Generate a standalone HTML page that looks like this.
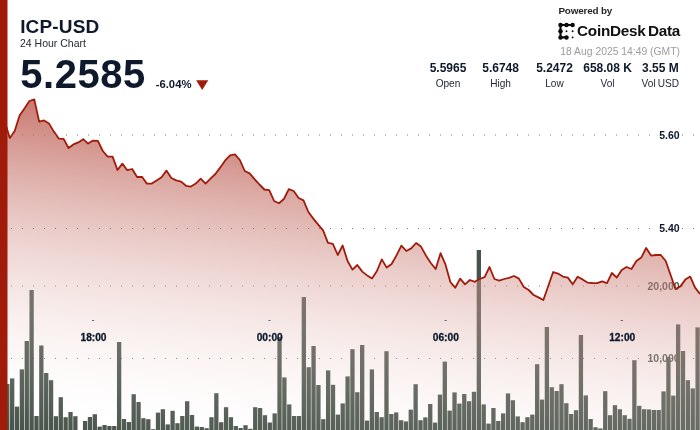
<!DOCTYPE html>
<html><head><meta charset="utf-8"><title>ICP-USD 24 Hour Chart</title>
<style>
html,body{margin:0;padding:0;background:#fff;}
body{width:700px;height:430px;overflow:hidden;position:relative;font-family:"Liberation Sans",Arial,sans-serif;color:#0e1a2c;}
svg{position:absolute;left:0;top:0;}
.t{position:absolute;white-space:nowrap;line-height:1;}
.sym{left:20.2px;top:16.8px;font-size:19px;font-weight:bold;letter-spacing:0.15px;}
.sub{left:20px;top:38.3px;font-size:10.5px;color:#222a35;}
.price{left:20.3px;top:54.2px;font-size:40px;font-weight:bold;letter-spacing:0.5px;}
.chg{left:155.7px;top:79px;font-size:11.3px;font-weight:bold;}
.pow{left:558.4px;top:5.7px;font-size:9.9px;font-weight:bold;color:#262626;letter-spacing:-0.17px;}
.brand{left:577px;top:22.9px;font-size:15.3px;font-weight:bold;color:#111;word-spacing:-1.6px;letter-spacing:-0.25px;}
.date{right:20.1px;top:46.6px;font-size:10.35px;color:#9c9c9c;}
.col{position:absolute;top:62px;width:80px;margin-left:-40px;text-align:center;}
.col b{display:block;font-size:12px;line-height:13px;font-weight:bold;}
.col span{display:block;font-size:10.1px;line-height:12px;margin-top:2.7px;word-spacing:-0.8px;color:#222a35;}
</style></head><body>
<svg width="700" height="430" viewBox="0 0 700 430">
<defs>
<linearGradient id="g" x1="50" y1="0" x2="0" y2="430" gradientUnits="userSpaceOnUse">
<stop offset="0" stop-color="#a11b0b" stop-opacity="1"/>
<stop offset="1" stop-color="#ffffff" stop-opacity="0"/>
</linearGradient>
</defs>
<g font-family="Liberation Sans, Arial, sans-serif" font-weight="bold" font-size="10.5" text-anchor="end" fill="#47534a">
<text x="679.6" y="289.8">20,000</text>
<text x="679.6" y="362.2">10,000</text>
</g>
<g fill="#7a7a7a"><rect x="11" y="285.5" width="1" height="1"/><rect x="22" y="285.5" width="1" height="1"/><rect x="33" y="285.5" width="1" height="1"/><rect x="44" y="285.5" width="1" height="1"/><rect x="55" y="285.5" width="1" height="1"/><rect x="66" y="285.5" width="1" height="1"/><rect x="77" y="285.5" width="1" height="1"/><rect x="88" y="285.5" width="1" height="1"/><rect x="99" y="285.5" width="1" height="1"/><rect x="110" y="285.5" width="1" height="1"/><rect x="121" y="285.5" width="1" height="1"/><rect x="132" y="285.5" width="1" height="1"/><rect x="143" y="285.5" width="1" height="1"/><rect x="154" y="285.5" width="1" height="1"/><rect x="165" y="285.5" width="1" height="1"/><rect x="176" y="285.5" width="1" height="1"/><rect x="187" y="285.5" width="1" height="1"/><rect x="198" y="285.5" width="1" height="1"/><rect x="209" y="285.5" width="1" height="1"/><rect x="220" y="285.5" width="1" height="1"/><rect x="231" y="285.5" width="1" height="1"/><rect x="242" y="285.5" width="1" height="1"/><rect x="253" y="285.5" width="1" height="1"/><rect x="264" y="285.5" width="1" height="1"/><rect x="275" y="285.5" width="1" height="1"/><rect x="286" y="285.5" width="1" height="1"/><rect x="297" y="285.5" width="1" height="1"/><rect x="308" y="285.5" width="1" height="1"/><rect x="319" y="285.5" width="1" height="1"/><rect x="330" y="285.5" width="1" height="1"/><rect x="341" y="285.5" width="1" height="1"/><rect x="352" y="285.5" width="1" height="1"/><rect x="363" y="285.5" width="1" height="1"/><rect x="374" y="285.5" width="1" height="1"/><rect x="385" y="285.5" width="1" height="1"/><rect x="396" y="285.5" width="1" height="1"/><rect x="407" y="285.5" width="1" height="1"/><rect x="418" y="285.5" width="1" height="1"/><rect x="429" y="285.5" width="1" height="1"/><rect x="440" y="285.5" width="1" height="1"/><rect x="451" y="285.5" width="1" height="1"/><rect x="462" y="285.5" width="1" height="1"/><rect x="473" y="285.5" width="1" height="1"/><rect x="484" y="285.5" width="1" height="1"/><rect x="495" y="285.5" width="1" height="1"/><rect x="506" y="285.5" width="1" height="1"/><rect x="517" y="285.5" width="1" height="1"/><rect x="528" y="285.5" width="1" height="1"/><rect x="539" y="285.5" width="1" height="1"/><rect x="550" y="285.5" width="1" height="1"/><rect x="561" y="285.5" width="1" height="1"/><rect x="572" y="285.5" width="1" height="1"/><rect x="583" y="285.5" width="1" height="1"/><rect x="594" y="285.5" width="1" height="1"/><rect x="605" y="285.5" width="1" height="1"/><rect x="616" y="285.5" width="1" height="1"/><rect x="627" y="285.5" width="1" height="1"/><rect x="638" y="285.5" width="1" height="1"/><rect x="649" y="285.5" width="1" height="1"/><rect x="660" y="285.5" width="1" height="1"/><rect x="671" y="285.5" width="1" height="1"/><rect x="682" y="285.5" width="1" height="1"/><rect x="693" y="285.5" width="1" height="1"/><rect x="11" y="358" width="1" height="1"/><rect x="22" y="358" width="1" height="1"/><rect x="33" y="358" width="1" height="1"/><rect x="44" y="358" width="1" height="1"/><rect x="55" y="358" width="1" height="1"/><rect x="66" y="358" width="1" height="1"/><rect x="77" y="358" width="1" height="1"/><rect x="88" y="358" width="1" height="1"/><rect x="99" y="358" width="1" height="1"/><rect x="110" y="358" width="1" height="1"/><rect x="121" y="358" width="1" height="1"/><rect x="132" y="358" width="1" height="1"/><rect x="143" y="358" width="1" height="1"/><rect x="154" y="358" width="1" height="1"/><rect x="165" y="358" width="1" height="1"/><rect x="176" y="358" width="1" height="1"/><rect x="187" y="358" width="1" height="1"/><rect x="198" y="358" width="1" height="1"/><rect x="209" y="358" width="1" height="1"/><rect x="220" y="358" width="1" height="1"/><rect x="231" y="358" width="1" height="1"/><rect x="242" y="358" width="1" height="1"/><rect x="253" y="358" width="1" height="1"/><rect x="264" y="358" width="1" height="1"/><rect x="275" y="358" width="1" height="1"/><rect x="286" y="358" width="1" height="1"/><rect x="297" y="358" width="1" height="1"/><rect x="308" y="358" width="1" height="1"/><rect x="319" y="358" width="1" height="1"/><rect x="330" y="358" width="1" height="1"/><rect x="341" y="358" width="1" height="1"/><rect x="352" y="358" width="1" height="1"/><rect x="363" y="358" width="1" height="1"/><rect x="374" y="358" width="1" height="1"/><rect x="385" y="358" width="1" height="1"/><rect x="396" y="358" width="1" height="1"/><rect x="407" y="358" width="1" height="1"/><rect x="418" y="358" width="1" height="1"/><rect x="429" y="358" width="1" height="1"/><rect x="440" y="358" width="1" height="1"/><rect x="451" y="358" width="1" height="1"/><rect x="462" y="358" width="1" height="1"/><rect x="473" y="358" width="1" height="1"/><rect x="484" y="358" width="1" height="1"/><rect x="495" y="358" width="1" height="1"/><rect x="506" y="358" width="1" height="1"/><rect x="517" y="358" width="1" height="1"/><rect x="528" y="358" width="1" height="1"/><rect x="539" y="358" width="1" height="1"/><rect x="550" y="358" width="1" height="1"/><rect x="561" y="358" width="1" height="1"/><rect x="572" y="358" width="1" height="1"/><rect x="583" y="358" width="1" height="1"/><rect x="594" y="358" width="1" height="1"/><rect x="605" y="358" width="1" height="1"/><rect x="616" y="358" width="1" height="1"/><rect x="627" y="358" width="1" height="1"/><rect x="638" y="358" width="1" height="1"/><rect x="649" y="358" width="1" height="1"/><rect x="660" y="358" width="1" height="1"/><rect x="671" y="358" width="1" height="1"/><rect x="682" y="358" width="1" height="1"/><rect x="693" y="358" width="1" height="1"/></g>
<g fill="#47534a">
<rect x="0.30" y="400" width="4.3" height="30.0"/>
<rect x="5.16" y="384" width="4.3" height="46.0"/>
<rect x="10.02" y="378.4" width="4.3" height="51.6"/>
<rect x="14.88" y="406.6" width="4.3" height="23.4"/>
<rect x="19.74" y="369.4" width="4.3" height="60.6"/>
<rect x="24.61" y="341" width="4.3" height="89.0"/>
<rect x="29.47" y="290" width="4.3" height="140.0"/>
<rect x="34.33" y="416" width="4.3" height="14.0"/>
<rect x="39.19" y="345.5" width="4.3" height="84.5"/>
<rect x="44.05" y="373" width="4.3" height="57.0"/>
<rect x="48.91" y="380.2" width="4.3" height="49.8"/>
<rect x="53.77" y="416.2" width="4.3" height="13.8"/>
<rect x="58.63" y="397.2" width="4.3" height="32.8"/>
<rect x="63.49" y="417.2" width="4.3" height="12.8"/>
<rect x="68.36" y="412" width="4.3" height="18.0"/>
<rect x="73.22" y="416.2" width="4.3" height="13.8"/>
<rect x="82.94" y="421" width="4.3" height="9.0"/>
<rect x="87.80" y="417" width="4.3" height="13.0"/>
<rect x="92.66" y="414.2" width="4.3" height="15.8"/>
<rect x="97.52" y="426.6" width="4.3" height="3.4"/>
<rect x="102.38" y="425" width="4.3" height="5.0"/>
<rect x="107.24" y="426" width="4.3" height="4.0"/>
<rect x="112.11" y="426" width="4.3" height="4.0"/>
<rect x="116.97" y="342" width="4.3" height="88.0"/>
<rect x="121.83" y="419" width="4.3" height="11.0"/>
<rect x="126.69" y="422" width="4.3" height="8.0"/>
<rect x="131.55" y="394.2" width="4.3" height="35.8"/>
<rect x="136.41" y="402" width="4.3" height="28.0"/>
<rect x="141.27" y="418.2" width="4.3" height="11.8"/>
<rect x="146.13" y="419.2" width="4.3" height="10.8"/>
<rect x="150.99" y="429.2" width="4.3" height="0.8"/>
<rect x="155.86" y="412.6" width="4.3" height="17.4"/>
<rect x="160.72" y="409.2" width="4.3" height="20.8"/>
<rect x="165.58" y="424.4" width="4.3" height="5.6"/>
<rect x="170.44" y="410.8" width="4.3" height="19.2"/>
<rect x="175.30" y="423.2" width="4.3" height="6.8"/>
<rect x="180.16" y="416" width="4.3" height="14.0"/>
<rect x="185.02" y="401.2" width="4.3" height="28.8"/>
<rect x="189.88" y="415" width="4.3" height="15.0"/>
<rect x="194.74" y="426.6" width="4.3" height="3.4"/>
<rect x="199.61" y="427" width="4.3" height="3.0"/>
<rect x="204.47" y="428.2" width="4.3" height="1.8"/>
<rect x="209.33" y="417.2" width="4.3" height="12.8"/>
<rect x="214.19" y="393.2" width="4.3" height="36.8"/>
<rect x="219.05" y="422.2" width="4.3" height="7.8"/>
<rect x="223.91" y="407.2" width="4.3" height="22.8"/>
<rect x="228.77" y="417.2" width="4.3" height="12.8"/>
<rect x="233.63" y="426" width="4.3" height="4.0"/>
<rect x="238.49" y="428" width="4.3" height="2.0"/>
<rect x="243.36" y="425.2" width="4.3" height="4.8"/>
<rect x="248.22" y="428.8" width="4.3" height="1.2"/>
<rect x="253.08" y="407.2" width="4.3" height="22.8"/>
<rect x="257.94" y="408" width="4.3" height="22.0"/>
<rect x="262.80" y="415.2" width="4.3" height="14.8"/>
<rect x="267.66" y="422.5" width="4.3" height="7.5"/>
<rect x="272.52" y="413.4" width="4.3" height="16.6"/>
<rect x="277.38" y="337" width="4.3" height="93.0"/>
<rect x="282.24" y="377.4" width="4.3" height="52.6"/>
<rect x="287.11" y="404.4" width="4.3" height="25.6"/>
<rect x="291.97" y="416" width="4.3" height="14.0"/>
<rect x="296.83" y="416" width="4.3" height="14.0"/>
<rect x="301.69" y="297" width="4.3" height="133.0"/>
<rect x="306.55" y="367.2" width="4.3" height="62.8"/>
<rect x="311.41" y="346" width="4.3" height="84.0"/>
<rect x="316.27" y="385" width="4.3" height="45.0"/>
<rect x="321.13" y="419.2" width="4.3" height="10.8"/>
<rect x="325.99" y="370.4" width="4.3" height="59.6"/>
<rect x="330.86" y="384.8" width="4.3" height="45.2"/>
<rect x="335.72" y="414.6" width="4.3" height="15.4"/>
<rect x="340.58" y="403.4" width="4.3" height="26.6"/>
<rect x="345.44" y="376.4" width="4.3" height="53.6"/>
<rect x="350.30" y="349.2" width="4.3" height="80.8"/>
<rect x="355.16" y="392.2" width="4.3" height="37.8"/>
<rect x="360.02" y="345" width="4.3" height="85.0"/>
<rect x="364.88" y="420.6" width="4.3" height="9.4"/>
<rect x="369.74" y="369.4" width="4.3" height="60.6"/>
<rect x="374.61" y="412" width="4.3" height="18.0"/>
<rect x="379.47" y="417.2" width="4.3" height="12.8"/>
<rect x="384.33" y="351.2" width="4.3" height="78.8"/>
<rect x="389.19" y="414" width="4.3" height="16.0"/>
<rect x="394.05" y="412.4" width="4.3" height="17.6"/>
<rect x="398.91" y="420.2" width="4.3" height="9.8"/>
<rect x="403.77" y="421.4" width="4.3" height="8.6"/>
<rect x="408.63" y="409.6" width="4.3" height="20.4"/>
<rect x="413.49" y="384.2" width="4.3" height="45.8"/>
<rect x="418.36" y="420.2" width="4.3" height="9.8"/>
<rect x="423.22" y="417.4" width="4.3" height="12.6"/>
<rect x="428.08" y="404" width="4.3" height="26.0"/>
<rect x="432.94" y="422.6" width="4.3" height="7.4"/>
<rect x="437.80" y="394.6" width="4.3" height="35.4"/>
<rect x="442.66" y="361.6" width="4.3" height="68.4"/>
<rect x="447.52" y="410.6" width="4.3" height="19.4"/>
<rect x="452.38" y="392.4" width="4.3" height="37.6"/>
<rect x="457.24" y="403.6" width="4.3" height="26.4"/>
<rect x="462.11" y="394" width="4.3" height="36.0"/>
<rect x="466.97" y="401.2" width="4.3" height="28.8"/>
<rect x="471.83" y="391.8" width="4.3" height="38.2"/>
<rect x="476.69" y="250" width="4.3" height="180.0"/>
<rect x="481.55" y="404.4" width="4.3" height="25.6"/>
<rect x="486.41" y="423.6" width="4.3" height="6.4"/>
<rect x="491.27" y="408" width="4.3" height="22.0"/>
<rect x="496.13" y="421" width="4.3" height="9.0"/>
<rect x="500.99" y="413.4" width="4.3" height="16.6"/>
<rect x="505.86" y="393.4" width="4.3" height="36.6"/>
<rect x="510.72" y="400.2" width="4.3" height="29.8"/>
<rect x="515.58" y="416.4" width="4.3" height="13.6"/>
<rect x="520.44" y="422.2" width="4.3" height="7.8"/>
<rect x="525.30" y="417.2" width="4.3" height="12.8"/>
<rect x="530.16" y="414.6" width="4.3" height="15.4"/>
<rect x="535.02" y="364.2" width="4.3" height="65.8"/>
<rect x="539.88" y="399.6" width="4.3" height="30.4"/>
<rect x="544.74" y="327" width="4.3" height="103.0"/>
<rect x="549.61" y="387.2" width="4.3" height="42.8"/>
<rect x="554.47" y="391" width="4.3" height="39.0"/>
<rect x="559.33" y="384.2" width="4.3" height="45.8"/>
<rect x="564.19" y="403.2" width="4.3" height="26.8"/>
<rect x="569.05" y="414" width="4.3" height="16.0"/>
<rect x="573.91" y="410.2" width="4.3" height="19.8"/>
<rect x="578.77" y="335" width="4.3" height="95.0"/>
<rect x="583.63" y="395.4" width="4.3" height="34.6"/>
<rect x="588.49" y="419" width="4.3" height="11.0"/>
<rect x="593.36" y="427.2" width="4.3" height="2.8"/>
<rect x="598.22" y="428.4" width="4.3" height="1.6"/>
<rect x="603.08" y="391.2" width="4.3" height="38.8"/>
<rect x="607.94" y="415.2" width="4.3" height="14.8"/>
<rect x="612.80" y="405.2" width="4.3" height="24.8"/>
<rect x="617.66" y="409.2" width="4.3" height="20.8"/>
<rect x="622.52" y="415.2" width="4.3" height="14.8"/>
<rect x="627.38" y="418.8" width="4.3" height="11.2"/>
<rect x="632.24" y="360.2" width="4.3" height="69.8"/>
<rect x="637.11" y="405.8" width="4.3" height="24.2"/>
<rect x="641.97" y="409.2" width="4.3" height="20.8"/>
<rect x="646.83" y="409.4" width="4.3" height="20.6"/>
<rect x="651.69" y="410" width="4.3" height="20.0"/>
<rect x="656.55" y="410" width="4.3" height="20.0"/>
<rect x="661.41" y="391.4" width="4.3" height="38.6"/>
<rect x="666.27" y="357" width="4.3" height="73.0"/>
<rect x="671.13" y="395.6" width="4.3" height="34.4"/>
<rect x="675.99" y="324.4" width="4.3" height="105.6"/>
<rect x="680.86" y="351" width="4.3" height="79.0"/>
<rect x="685.72" y="380.2" width="4.3" height="49.8"/>
<rect x="690.58" y="388.4" width="4.3" height="41.6"/>
<rect x="695.44" y="327.4" width="4.3" height="102.6"/>
</g>
<path d="M0.0 128 L4.9 122 L9.79 138 L14.69 131 L19.58 115.6 L24.48 108.4 L29.37 101 L34.27 99.4 L39.16 121.6 L44.06 120.4 L48.95 123.4 L53.85 131.6 L58.74 138.6 L63.64 138.8 L68.53 148 L73.43 144.4 L78.32 142.4 L83.22 139.2 L88.11 143.6 L93.01 140.6 L97.9 140.8 L102.8 151 L107.69 156.6 L112.59 156.6 L117.48 170 L122.38 163.6 L127.27 170.2 L132.17 169 L137.06 177 L141.96 176.8 L146.85 183.6 L151.75 183.6 L156.64 180.4 L161.54 177.2 L166.43 170.6 L171.33 178 L176.22 180.4 L181.12 181.6 L186.01 185.8 L190.91 186.6 L195.8 183.6 L200.7 178.6 L205.59 183.6 L210.49 178.6 L215.38 174 L220.28 167.4 L225.17 160.4 L230.07 155.4 L234.97 154.4 L239.86 160 L244.76 171 L249.65 173.4 L254.55 179.2 L259.44 184.5 L264.34 189.5 L269.23 190.1 L274.13 201 L279.02 203.2 L283.92 199 L288.81 189.2 L293.71 191 L298.6 198 L303.5 200.4 L308.39 212 L313.29 218.6 L318.18 224.6 L323.08 230.4 L327.97 242.8 L332.87 243.8 L337.76 255 L342.66 245.5 L347.55 261 L352.45 269.6 L357.34 265 L362.24 271.6 L367.13 275.4 L372.03 278.4 L376.92 271 L381.82 259.4 L386.71 267.6 L391.61 264 L396.5 255.4 L401.4 245.6 L406.29 251 L411.19 248.4 L416.08 243 L420.98 246.6 L425.87 255.4 L430.77 263 L435.66 269 L440.56 253.2 L445.45 264.4 L450.35 282 L455.24 287.7 L460.14 278.6 L465.03 284.4 L469.93 280 L474.83 281.8 L479.72 279 L484.62 277.2 L489.51 267 L494.41 279 L499.3 280.6 L504.2 279 L509.09 277.8 L513.99 276 L518.88 278.6 L523.78 287 L528.67 290 L533.57 295 L538.46 297.4 L543.36 300 L548.25 286 L553.15 272 L558.04 273.6 L562.94 276.6 L567.83 277.6 L572.73 284.2 L577.62 276.8 L582.52 279.4 L587.41 282.6 L592.31 283 L597.2 283.2 L602.1 281.4 L606.99 283.2 L611.89 273 L616.78 277.6 L621.68 270 L626.57 267 L631.47 269 L636.36 261 L641.26 257.6 L646.15 248 L651.05 255.6 L655.94 255 L660.84 255 L665.73 261 L670.63 275 L675.52 289 L680.42 286.4 L685.31 279.6 L690.21 276.6 L695.1 287.6 L700.0 294 L700 430 L0 430 Z" fill="url(#g)"/>
<path d="M0.0 128 L4.9 122 L9.79 138 L14.69 131 L19.58 115.6 L24.48 108.4 L29.37 101 L34.27 99.4 L39.16 121.6 L44.06 120.4 L48.95 123.4 L53.85 131.6 L58.74 138.6 L63.64 138.8 L68.53 148 L73.43 144.4 L78.32 142.4 L83.22 139.2 L88.11 143.6 L93.01 140.6 L97.9 140.8 L102.8 151 L107.69 156.6 L112.59 156.6 L117.48 170 L122.38 163.6 L127.27 170.2 L132.17 169 L137.06 177 L141.96 176.8 L146.85 183.6 L151.75 183.6 L156.64 180.4 L161.54 177.2 L166.43 170.6 L171.33 178 L176.22 180.4 L181.12 181.6 L186.01 185.8 L190.91 186.6 L195.8 183.6 L200.7 178.6 L205.59 183.6 L210.49 178.6 L215.38 174 L220.28 167.4 L225.17 160.4 L230.07 155.4 L234.97 154.4 L239.86 160 L244.76 171 L249.65 173.4 L254.55 179.2 L259.44 184.5 L264.34 189.5 L269.23 190.1 L274.13 201 L279.02 203.2 L283.92 199 L288.81 189.2 L293.71 191 L298.6 198 L303.5 200.4 L308.39 212 L313.29 218.6 L318.18 224.6 L323.08 230.4 L327.97 242.8 L332.87 243.8 L337.76 255 L342.66 245.5 L347.55 261 L352.45 269.6 L357.34 265 L362.24 271.6 L367.13 275.4 L372.03 278.4 L376.92 271 L381.82 259.4 L386.71 267.6 L391.61 264 L396.5 255.4 L401.4 245.6 L406.29 251 L411.19 248.4 L416.08 243 L420.98 246.6 L425.87 255.4 L430.77 263 L435.66 269 L440.56 253.2 L445.45 264.4 L450.35 282 L455.24 287.7 L460.14 278.6 L465.03 284.4 L469.93 280 L474.83 281.8 L479.72 279 L484.62 277.2 L489.51 267 L494.41 279 L499.3 280.6 L504.2 279 L509.09 277.8 L513.99 276 L518.88 278.6 L523.78 287 L528.67 290 L533.57 295 L538.46 297.4 L543.36 300 L548.25 286 L553.15 272 L558.04 273.6 L562.94 276.6 L567.83 277.6 L572.73 284.2 L577.62 276.8 L582.52 279.4 L587.41 282.6 L592.31 283 L597.2 283.2 L602.1 281.4 L606.99 283.2 L611.89 273 L616.78 277.6 L621.68 270 L626.57 267 L631.47 269 L636.36 261 L641.26 257.6 L646.15 248 L651.05 255.6 L655.94 255 L660.84 255 L665.73 261 L670.63 275 L675.52 289 L680.42 286.4 L685.31 279.6 L690.21 276.6 L695.1 287.6 L700.0 294" fill="none" stroke="#a11b0b" stroke-width="1.8" stroke-linejoin="round"/>
<g fill="#7a7a7a"><rect x="11" y="134.5" width="1" height="1"/><rect x="22" y="134.5" width="1" height="1"/><rect x="33" y="134.5" width="1" height="1"/><rect x="44" y="134.5" width="1" height="1"/><rect x="55" y="134.5" width="1" height="1"/><rect x="66" y="134.5" width="1" height="1"/><rect x="77" y="134.5" width="1" height="1"/><rect x="88" y="134.5" width="1" height="1"/><rect x="99" y="134.5" width="1" height="1"/><rect x="110" y="134.5" width="1" height="1"/><rect x="121" y="134.5" width="1" height="1"/><rect x="132" y="134.5" width="1" height="1"/><rect x="143" y="134.5" width="1" height="1"/><rect x="154" y="134.5" width="1" height="1"/><rect x="165" y="134.5" width="1" height="1"/><rect x="176" y="134.5" width="1" height="1"/><rect x="187" y="134.5" width="1" height="1"/><rect x="198" y="134.5" width="1" height="1"/><rect x="209" y="134.5" width="1" height="1"/><rect x="220" y="134.5" width="1" height="1"/><rect x="231" y="134.5" width="1" height="1"/><rect x="242" y="134.5" width="1" height="1"/><rect x="253" y="134.5" width="1" height="1"/><rect x="264" y="134.5" width="1" height="1"/><rect x="275" y="134.5" width="1" height="1"/><rect x="286" y="134.5" width="1" height="1"/><rect x="297" y="134.5" width="1" height="1"/><rect x="308" y="134.5" width="1" height="1"/><rect x="319" y="134.5" width="1" height="1"/><rect x="330" y="134.5" width="1" height="1"/><rect x="341" y="134.5" width="1" height="1"/><rect x="352" y="134.5" width="1" height="1"/><rect x="363" y="134.5" width="1" height="1"/><rect x="374" y="134.5" width="1" height="1"/><rect x="385" y="134.5" width="1" height="1"/><rect x="396" y="134.5" width="1" height="1"/><rect x="407" y="134.5" width="1" height="1"/><rect x="418" y="134.5" width="1" height="1"/><rect x="429" y="134.5" width="1" height="1"/><rect x="440" y="134.5" width="1" height="1"/><rect x="451" y="134.5" width="1" height="1"/><rect x="462" y="134.5" width="1" height="1"/><rect x="473" y="134.5" width="1" height="1"/><rect x="484" y="134.5" width="1" height="1"/><rect x="495" y="134.5" width="1" height="1"/><rect x="506" y="134.5" width="1" height="1"/><rect x="517" y="134.5" width="1" height="1"/><rect x="528" y="134.5" width="1" height="1"/><rect x="539" y="134.5" width="1" height="1"/><rect x="550" y="134.5" width="1" height="1"/><rect x="561" y="134.5" width="1" height="1"/><rect x="572" y="134.5" width="1" height="1"/><rect x="583" y="134.5" width="1" height="1"/><rect x="594" y="134.5" width="1" height="1"/><rect x="605" y="134.5" width="1" height="1"/><rect x="616" y="134.5" width="1" height="1"/><rect x="627" y="134.5" width="1" height="1"/><rect x="638" y="134.5" width="1" height="1"/><rect x="649" y="134.5" width="1" height="1"/><rect x="660" y="134.5" width="1" height="1"/><rect x="671" y="134.5" width="1" height="1"/><rect x="682" y="134.5" width="1" height="1"/><rect x="693" y="134.5" width="1" height="1"/><rect x="11" y="228" width="1" height="1"/><rect x="22" y="228" width="1" height="1"/><rect x="33" y="228" width="1" height="1"/><rect x="44" y="228" width="1" height="1"/><rect x="55" y="228" width="1" height="1"/><rect x="66" y="228" width="1" height="1"/><rect x="77" y="228" width="1" height="1"/><rect x="88" y="228" width="1" height="1"/><rect x="99" y="228" width="1" height="1"/><rect x="110" y="228" width="1" height="1"/><rect x="121" y="228" width="1" height="1"/><rect x="132" y="228" width="1" height="1"/><rect x="143" y="228" width="1" height="1"/><rect x="154" y="228" width="1" height="1"/><rect x="165" y="228" width="1" height="1"/><rect x="176" y="228" width="1" height="1"/><rect x="187" y="228" width="1" height="1"/><rect x="198" y="228" width="1" height="1"/><rect x="209" y="228" width="1" height="1"/><rect x="220" y="228" width="1" height="1"/><rect x="231" y="228" width="1" height="1"/><rect x="242" y="228" width="1" height="1"/><rect x="253" y="228" width="1" height="1"/><rect x="264" y="228" width="1" height="1"/><rect x="275" y="228" width="1" height="1"/><rect x="286" y="228" width="1" height="1"/><rect x="297" y="228" width="1" height="1"/><rect x="308" y="228" width="1" height="1"/><rect x="319" y="228" width="1" height="1"/><rect x="330" y="228" width="1" height="1"/><rect x="341" y="228" width="1" height="1"/><rect x="352" y="228" width="1" height="1"/><rect x="363" y="228" width="1" height="1"/><rect x="374" y="228" width="1" height="1"/><rect x="385" y="228" width="1" height="1"/><rect x="396" y="228" width="1" height="1"/><rect x="407" y="228" width="1" height="1"/><rect x="418" y="228" width="1" height="1"/><rect x="429" y="228" width="1" height="1"/><rect x="440" y="228" width="1" height="1"/><rect x="451" y="228" width="1" height="1"/><rect x="462" y="228" width="1" height="1"/><rect x="473" y="228" width="1" height="1"/><rect x="484" y="228" width="1" height="1"/><rect x="495" y="228" width="1" height="1"/><rect x="506" y="228" width="1" height="1"/><rect x="517" y="228" width="1" height="1"/><rect x="528" y="228" width="1" height="1"/><rect x="539" y="228" width="1" height="1"/><rect x="550" y="228" width="1" height="1"/><rect x="561" y="228" width="1" height="1"/><rect x="572" y="228" width="1" height="1"/><rect x="583" y="228" width="1" height="1"/><rect x="594" y="228" width="1" height="1"/><rect x="605" y="228" width="1" height="1"/><rect x="616" y="228" width="1" height="1"/><rect x="627" y="228" width="1" height="1"/><rect x="638" y="228" width="1" height="1"/><rect x="649" y="228" width="1" height="1"/><rect x="660" y="228" width="1" height="1"/><rect x="671" y="228" width="1" height="1"/><rect x="682" y="228" width="1" height="1"/><rect x="693" y="228" width="1" height="1"/></g>
<g font-family="Liberation Sans, Arial, sans-serif" font-weight="bold" font-size="10.5" text-anchor="end">
<text x="679.6" y="138.7" fill="#0e1a2c">5.60</text>
<text x="679.6" y="232.1" fill="#0e1a2c">5.40</text>
</g>
<g fill="#0e1a2c"><rect x="92" y="320" width="2.2" height="0.6"/><rect x="268.3" y="320" width="2.2" height="0.6"/><rect x="444.5" y="320" width="2.2" height="0.6"/><rect x="620.7" y="320" width="2.2" height="0.6"/></g>
<g font-family="Liberation Sans, Arial, sans-serif" font-weight="bold" font-size="10.2" text-anchor="middle" fill="#0e1a2c" stroke="#0e1a2c" stroke-width="0.3">
<text x="93.5" y="340.6">18:00</text>
<text x="269.7" y="340.6">00:00</text>
<text x="445.8" y="340.6">06:00</text>
<text x="622.2" y="340.6">12:00</text>
</g>
<rect x="0" y="0" width="7.5" height="430" fill="#a11b0b"/>
<polygon points="196.1,80.3 208.3,80.3 202.2,90" fill="#a11b0b"/>
<g fill="#0b0b0b" stroke="#0b0b0b" stroke-width="2.1" stroke-linecap="round">
<path d="M572.6 25 H560.5 V37.4 H566.5" fill="none"/>
</g>
<g fill="#0b0b0b">
<circle cx="560.5" cy="25" r="2.25"/><circle cx="566.5" cy="25" r="2.25"/><circle cx="572.6" cy="25" r="2.25"/>
<circle cx="560.5" cy="31.2" r="2.25"/><circle cx="560.5" cy="37.4" r="2.25"/><circle cx="566.5" cy="37.4" r="2.25"/>
<circle cx="566.5" cy="31.2" r="0.95"/><circle cx="572.6" cy="31.2" r="0.95"/><circle cx="572.6" cy="37.4" r="0.95"/>
</g>
</svg>
<div class="t sym">ICP-USD</div>
<div class="t sub">24 Hour Chart</div>
<div class="t price">5.2585</div>
<div class="t chg">-6.04%</div>
<div class="t pow">Powered by</div>
<div class="t brand">CoinDesk Data</div>
<div class="t date">18 Aug 2025 14:49 (GMT)</div>
<div class="col" style="left:448px"><b>5.5965</b><span>Open</span></div>
<div class="col" style="left:500.6px"><b>5.6748</b><span>High</span></div>
<div class="col" style="left:554.5px"><b>5.2472</b><span>Low</span></div>
<div class="col" style="left:607.6px"><b>658.08 K</b><span>Vol</span></div>
<div class="col" style="left:660.3px"><b>3.55 M</b><span>Vol USD</span></div>
</body></html>
